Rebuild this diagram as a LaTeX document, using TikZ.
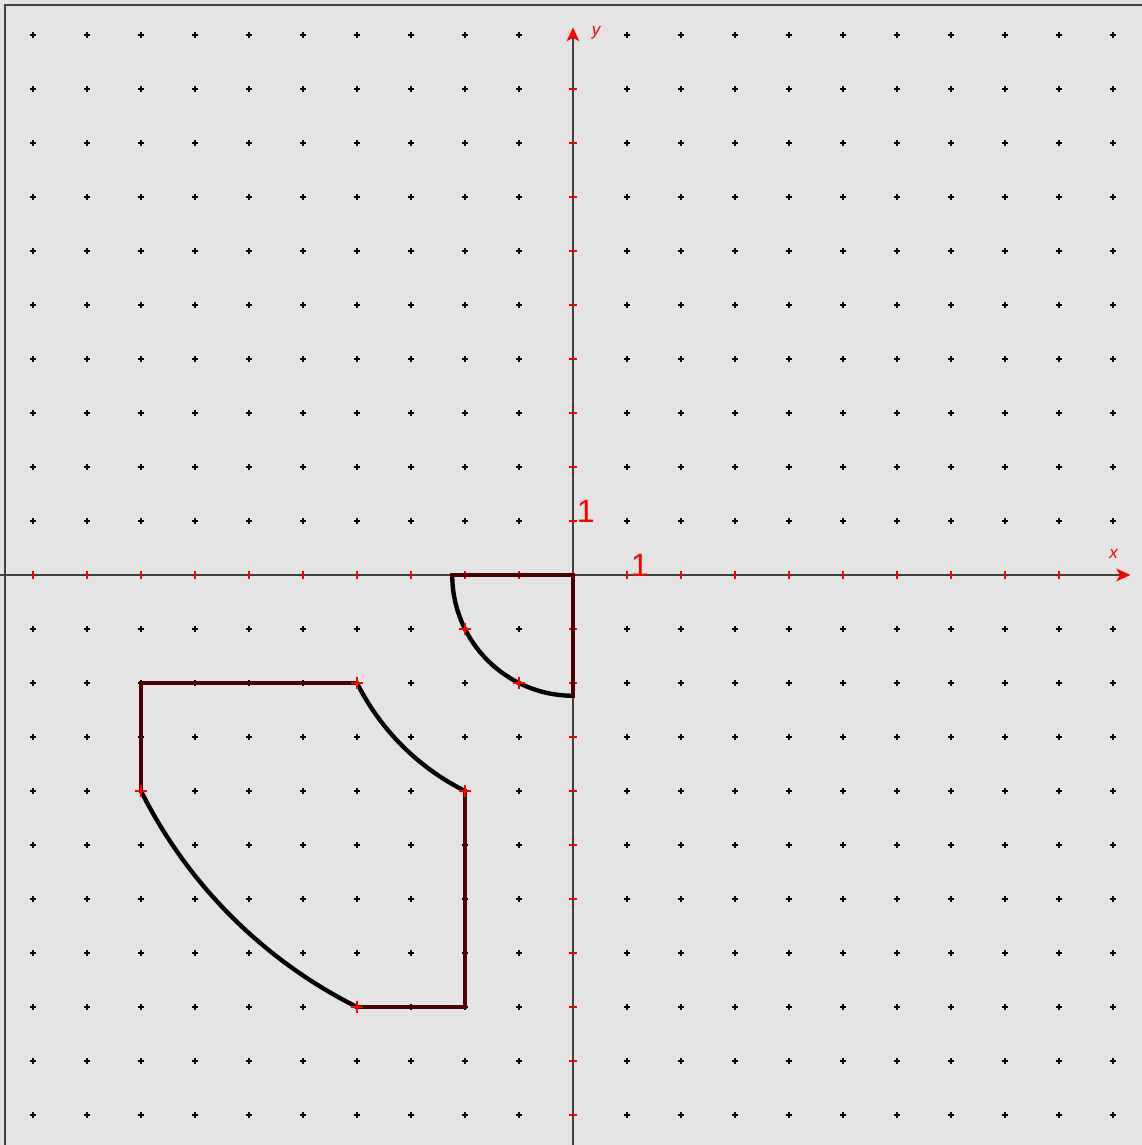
\documentclass[tikz,border=0pt]{standalone}
\usepackage{fontspec}
\setmainfont{Liberation Sans}
\usetikzlibrary{arrows.meta}
\definecolor{bg}{HTML}{E4E4E4}
\definecolor{edge}{HTML}{4A0000}
\definecolor{axisc}{HTML}{404040}
\definecolor{redc}{HTML}{FF0000}
\tikzset{
  griddot/.style={fill=black},
  seg/.style={draw=edge,line width=2.6pt,line cap=rect,line join=miter},
  arcline/.style={draw=black,line width=2.3pt},
  axisline/.style={draw=axisc,line width=0.9pt},
  redtick/.style={draw=redc,line width=0.6pt},
  lbl/.style={text=redc,font=\fontsize{17}{17}\selectfont,inner sep=0pt},
  axlbl/.style={text=redc,font=\itshape\fontsize{9}{9}\selectfont,inner sep=0pt}
}
\begin{document}
\begin{tikzpicture}[x=1cm,y=1cm]
\fill[bg] (-10.611,-10.556) rectangle (10.537,10.648);
\useasboundingbox (-10.611,-10.556) rectangle (10.537,10.648);
% frame
\draw[axisc,line width=1.2pt] (-10.52,-10.7) -- (-10.52,10.556) -- (10.7,10.556);
% grid dots
\foreach \i in {-10,...,10}{
  \foreach \j in {-10,...,10}{
    \ifnum\i=0\relax\else\ifnum\j=0\relax\else
      \fill[griddot] (\i,\j) circle (0.03);
      \draw[black,line width=0.6pt] (\i-0.06,\j) -- (\i+0.06,\j) (\i,\j-0.06) -- (\i,\j+0.06);
    \fi\fi
  }
}
% axes
\coordinate (xs) at (-10.611,0);
\coordinate (xe) at (10.3,0);
\coordinate (ys) at (0,-10.556);
\coordinate (ye) at (0,10.12);
\draw[axisline] (xs) -- (xe);
\draw[axisline] (ys) -- (ye);
\fill[redc] (10.32,0) -- (10.06,0.12) -- (10.13,0) -- (10.06,-0.12) -- cycle;
\fill[redc] (0,10.14) -- (-0.12,9.88) -- (0,9.95) -- (0.12,9.88) -- cycle;
\foreach \k in {-10,...,9}{
  \draw[redtick] (\k,-0.07) -- (\k,0.07);
}
\foreach \k in {-10,...,9}{
  \ifnum\k=0\relax\else
  \draw[redtick] (-0.07,\k) -- (0.07,\k);
  \fi
}
\node[axlbl] (xl) at (10.01,0.38) {x};
\node[axlbl] (yl) at (0.43,10.05) {y};
\node[lbl] (one1) at (1.24,0.18) {1};
\node[lbl] (one2) at (0.24,1.18) {1};
% quarter disk
\coordinate (qa) at ({-sqrt(5)},0);
\coordinate (qo) at (0,0);
\coordinate (qb) at (0,{-sqrt(5)});
\draw[arcline] (qb) arc[start angle=270,end angle=180,radius={sqrt(5)}];
\draw[seg] (qa) -- (qo) -- (qb);
% image region
\coordinate (p1) at (-8,-2);
\coordinate (p2) at (-4,-2);
\coordinate (p3) at (-2,-4);
\coordinate (p4) at (-2,-8);
\coordinate (p5) at (-4,-8);
\coordinate (p6) at (-8,-4);
\draw[arcline] (p2) arc[start angle=206.565,end angle=243.435,radius={sqrt(20)}];
\draw[arcline] (p5) arc[start angle=243.435,end angle=206.565,radius={sqrt(80)}];
\draw[seg] (p6) -- (p1) -- (p2);
\draw[seg] (p3) -- (p4) -- (p5);
% red vertex marks
\foreach \p in {(-4,-2),(-2,-4),(-4,-8),(-8,-4),(-2,-1),(-1,-2)}{
  \draw[redtick,line width=0.6pt] \p ++(-0.11,0) -- ++(0.22,0) \p ++(0,-0.11) -- ++(0,0.22);
}
\end{tikzpicture}
\end{document}
